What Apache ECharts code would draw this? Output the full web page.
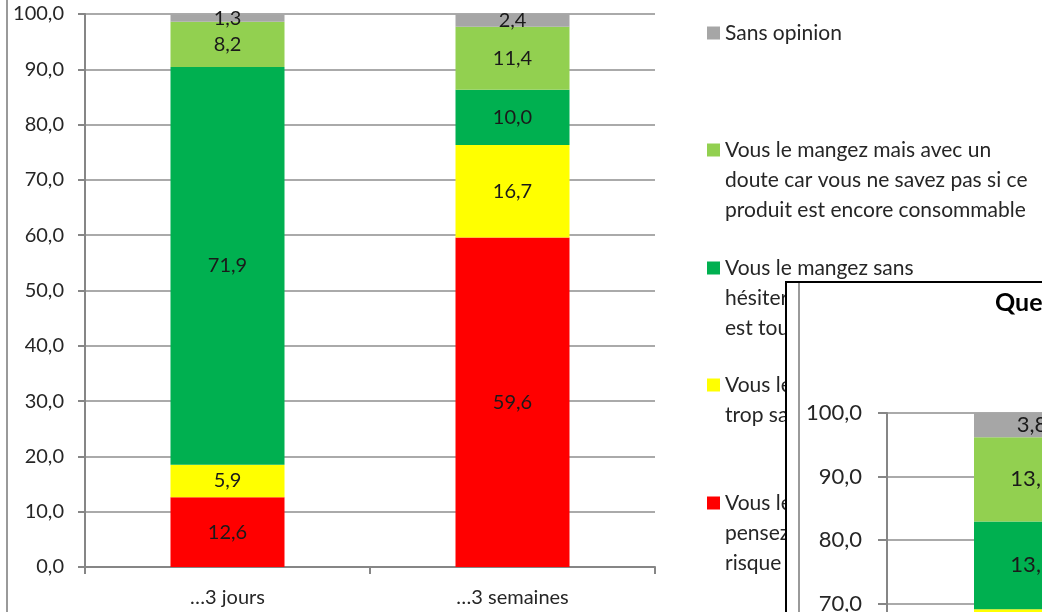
<!DOCTYPE html>
<html>
<head>
<meta charset="utf-8">
<script src="https://cdn.jsdelivr.net/npm/echarts@6/dist/echarts.min.js"></script>
<style>
  html, body { margin: 0; padding: 0; background: #fff; }
  #chart { width: 1042px; height: 612px; }
</style>
</head>
<body>
<div id="chart"></div>
<script>
const categories = ['…3 jours', '…3 semaines']
const seriesNames = ['Risque', 'Trop sale', 'Sans hésiter', 'Avec un doute', 'Sans opinion']
const legendLabels = {
  'Sans opinion': 'Sans opinion',
  'Avec un doute': 'Vous le mangez mais avec un\ndoute car vous ne savez pas si ce\nproduit est encore consommable',
  'Sans hésiter': 'Vous le mangez sans\nhésiter car ce produit\nest toujours consommable',
  'Trop sale': 'Vous le jetez car il est\ntrop sale',
  'Risque': 'Vous le jetez car vous\npensez qu\'il y a un\nrisque pour votre santé'
}
const risque = [12.6, 59.6]
const tropSale = [5.9, 16.7]
const sansHesiter = [71.9, 10.0]
const avecDoute = [8.2, 11.4]
const sansOpinion = [1.3, 2.4]

// second chart lying on top, mostly outside the picture
const insetTitle = 'Question 2 : et si la date est dépassée de...'
const insetRisque = [49.4, 62.0]
const insetTropSale = [19.7, 15.0]
const insetSansHesiter = [13.8, 8.0]
const insetAvecDoute = [13.3, 11.0]
const insetSansOpinion = [3.8, 4.0]

const colors = ['#FF0000', '#FFFF00', '#00B050', '#92D050', '#A6A6A6']
const font = 'Lato'
const fmt = (v) => Number(v).toFixed(1).replace('.', ',')

const mainData = [risque, tropSale, sansHesiter, avecDoute, sansOpinion]
const insetData = [insetRisque, insetTropSale, insetSansHesiter, insetAvecDoute, insetSansOpinion]

const chart = echarts.init(document.getElementById('chart'))

const makeSeries = (data, idx, stack, size, z) => data.map((values, i) => ({
  name: seriesNames[i],
  type: 'bar',
  stack: stack,
  xAxisIndex: idx,
  yAxisIndex: idx,
  barWidth: '40%',
  z: z,
  itemStyle: { color: colors[i] },
  label: {
    show: true,
    position: 'inside',
    color: '#1a1a1a',
    fontFamily: font,
    fontSize: size,
    formatter: (p) => fmt(p.value)
  },
  emphasis: { disabled: true },
  data: values
}))

// one legend per entry, so each sits where Excel put it.
// blank lines in front keep the square level with the first line of text
const legendTops = [18, 75, 193, 340, 428]
const legendOrder = ['Sans opinion', 'Avec un doute', 'Sans hésiter', 'Trop sale', 'Risque']
const legends = legendOrder.map((name, i) => ({
  data: [name],
  left: 707,
  top: legendTops[i],
  padding: 0,
  itemWidth: 13,
  itemHeight: 13,
  icon: 'rect',
  selectedMode: false,
  z: 1,
  formatter: (n) => {
    const lines = legendLabels[n].split('\n')
    return '\n'.repeat(lines.length - 1) + lines.join('\n')
  },
  textStyle: {
    fontFamily: font,
    fontSize: 21,
    lineHeight: 30,
    color: '#262626'
  }
}))

const axisGray = '#868686'

const option = {
  backgroundColor: '#fff',
  animation: false,
  title: {
    text: insetTitle,
    left: 995,
    top: 290,
    padding: 0,
    z: 60,
    textStyle: { fontFamily: font, fontSize: 25, fontWeight: 'bold', color: '#000' }
  },
  legend: legends,
  grid: [
    { left: 85, top: 14, width: 570, height: 553, outerBoundsMode: 'none' },
    { left: 887, top: 413, width: 580, height: 635, outerBoundsMode: 'none' }
  ],
  xAxis: [
    {
      type: 'category',
      gridIndex: 0,
      data: categories,
      axisLine: { lineStyle: { color: axisGray, width: 2 } },
      axisTick: { show: true, length: 7, interval: 0, lineStyle: { color: axisGray, width: 2 } },
      axisLabel: { margin: 21, fontFamily: font, fontSize: 20, color: '#262626' }
    },
    {
      type: 'category',
      gridIndex: 1,
      data: categories,
      z: 60,
      axisLine: { lineStyle: { color: axisGray, width: 2 } },
      axisTick: { show: true, length: 8, interval: 0, lineStyle: { color: axisGray, width: 2 } },
      axisLabel: { margin: 22, fontFamily: font, fontSize: 22, color: '#262626' }
    }
  ],
  yAxis: [
    {
      type: 'value',
      gridIndex: 0,
      min: 0,
      max: 100,
      interval: 10,
      axisLine: { show: true, lineStyle: { color: axisGray, width: 2 } },
      axisTick: { show: true, length: 7, lineStyle: { color: axisGray, width: 2 } },
      splitLine: { lineStyle: { color: '#8e8e8e', width: 1.5 } },
      axisLabel: { margin: 21, fontFamily: font, fontSize: 20, color: '#262626', formatter: fmt }
    },
    {
      type: 'value',
      gridIndex: 1,
      min: 0,
      max: 100,
      interval: 10,
      z: 60,
      axisLine: { show: true, lineStyle: { color: axisGray, width: 2 } },
      axisTick: { show: true, length: 9, lineStyle: { color: axisGray, width: 2 } },
      splitLine: { lineStyle: { color: '#8e8e8e', width: 1.5 } },
      axisLabel: { margin: 25, fontFamily: font, fontSize: 22, color: '#262626', formatter: fmt }
    }
  ],
  graphic: [
    { type: 'line', z: 0, shape: { x1: 7, y1: 0, x2: 7, y2: 612 }, style: { stroke: '#9a9a9a', lineWidth: 2 } },
    { type: 'rect', z: 50, shape: { x: 786, y: 282, width: 400, height: 400 }, style: { fill: '#fff', stroke: '#000', lineWidth: 2 } },
    { type: 'line', z: 51, shape: { x1: 799, y1: 283, x2: 799, y2: 612 }, style: { stroke: '#9a9a9a', lineWidth: 2 } }
  ],
  series: makeSeries(mainData, 0, 'main', 20, 2).concat(makeSeries(insetData, 1, 'inset', 22, 61))
}

chart.setOption(option)
</script>
</body>
</html>
